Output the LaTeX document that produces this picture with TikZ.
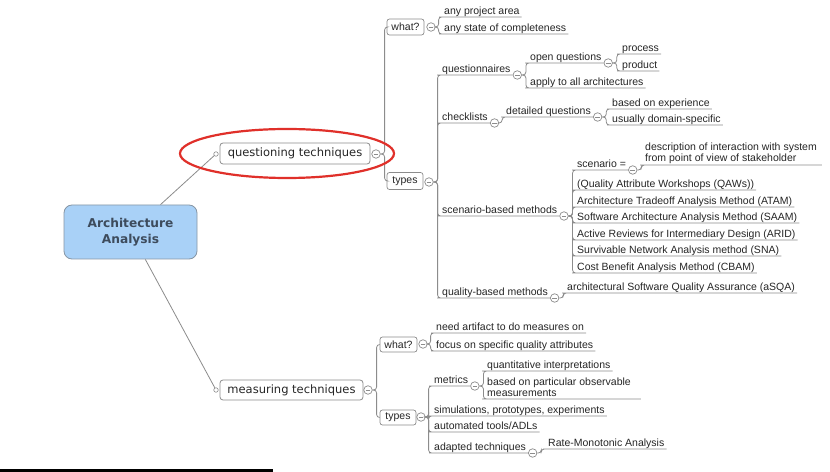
\documentclass[tikz,border=0pt]{standalone}
\usepackage{fontspec}
\setmainfont{Liberation Sans}
\newfontfamily\boxfont{DejaVu Sans}
\usetikzlibrary{shapes.geometric}
\definecolor{lineg}{HTML}{8C8C8C}
\definecolor{txt}{HTML}{262626}
\definecolor{rootfill}{HTML}{A9D1F7}
\definecolor{rootdraw}{HTML}{8796A5}
\definecolor{roottxt}{HTML}{3D4B5C}
\definecolor{ring}{HTML}{E0302A}
\newcommand\lastdp{\rule[-1.2bp]{0pt}{1.2bp}}
\tikzset{
 conn/.style={draw=lineg, line width=0.8bp, rounded corners=3bp},
 topic/.style={anchor=south west, inner xsep=2bp, inner ysep=0.8bp, text height=8bp, text depth=1.2bp, font=\fontsize{10.5bp}{12bp}\selectfont, text=txt},
 topictwo/.style={anchor=south west, inner xsep=2bp, inner ysep=0.8bp, align=left, font=\fontsize{10.5bp}{11.5bp}\selectfont, text=txt},
 smallbox/.style={draw=lineg, fill=white, rounded corners=2.5bp, line width=0.7bp, inner sep=0, font=\fontsize{10.5bp}{12bp}\selectfont, text=txt},
 mainbox/.style={draw=lineg, fill=white, rounded corners=3bp, line width=0.8bp, inner sep=0, font=\boxfont\fontsize{11.5bp}{13bp}\selectfont, text=txt},
 rootbox/.style={draw=rootdraw, fill=rootfill, rounded corners=8bp, line width=0.8bp, align=center, minimum width=133bp, minimum height=54bp, font=\boxfont\bfseries\fontsize{12.2bp}{16.5bp}\selectfont, text=roottxt},
 fold/.style={circle, draw=lineg, fill=white, line width=0.7bp, minimum size=8.5bp, inner sep=0, path picture={\draw[lineg, line width=0.7bp] ([xshift=-2.3bp]path picture bounding box.center) -- ([xshift=2.3bp]path picture bounding box.center);}},
 foldr/.style={fold, anchor=west},
 dot/.style={circle, draw=lineg, fill=white, line width=0.6bp, minimum size=4.5bp, inner sep=0},
}
\begin{document}
\begin{tikzpicture}[x=1bp,y=-1bp]
\fill[white] (0,0) rectangle (830,472);
\useasboundingbox (0,0) rectangle (830,472);
\fill[black] (0,468.5) rectangle (273,472);

% root and main branches
\node[rootbox] (root) at (130.5,232) {Architecture\\Analysis};
\node[mainbox, minimum width=150bp, minimum height=21bp] (qt) at (295,153.5) {questioning techniques};
\node[dot] (qdot) at (216,154) {};
\node[fold] (qtc) at (376,154) {};
\node[mainbox, minimum width=143bp, minimum height=20bp] (mt) at (291.5,390) {measuring techniques};
\node[dot] (mdot) at (216,390) {};
\node[fold] (mtc) at (368,390) {};

% questioning: what?
\node[smallbox, minimum width=37bp, minimum height=16bp] (qw) at (405.5,27) {what?};
\node[fold] (qwc) at (431,27) {};
\node[topic] (qa1) at (442,17) {any project area};
\node[topic] (qa2) at (442,34) {any state of completeness};

% questioning: types
\node[smallbox, minimum width=36bp, minimum height=17bp] (qty) at (405,181) {types};
\node[fold] (qtyc) at (429,182) {};
\node[topic] (qq) at (440,75) {questionnaires};
\node[foldr] (qqc) at (qq.south east) {};
\node[topic] (qo) at (528,63) {open questions};
\node[foldr] (qoc) at (qo.south east) {};
\node[topic] (qp1) at (620,54) {process};
\node[topic] (qp2) at (620,71) {product};
\node[topic] (qap) at (528,88) {apply to all architectures};
\node[topic] (qc) at (440,123) {checklists};
\node[foldr] (qcc) at (qc.south east) {};
\node[topic] (qd) at (504,117) {detailed questions};
\node[foldr] (qdc) at (qd.south east) {};
\node[topic] (qd1) at (610,109) {based on experience};
\node[topic] (qd2) at (610,125) {usually domain-specific};
\node[topic] (qs) at (440,216) {scenario-based methods};
\node[foldr] (qsc) at (qs.south east) {};
\node[topic] (qs0) at (575,170) {scenario =};
\node[foldr] (qs0c) at (qs0.south east) {};
\node[topictwo] (qsd) at (643,165) {description of interaction with system\\from point of view of stakeholder\lastdp};
\node[topic] (qs1) at (575,190) {(Quality Attribute Workshops (QAWs))};
\node[topic] (qs2) at (575,207) {Architecture Tradeoff Analysis Method (ATAM)};
\node[topic] (qs3) at (575,223) {Software Architecture Analysis Method (SAAM)};
\node[topic] (qs4) at (575,240) {Active Reviews for Intermediary Design (ARID)};
\node[topic] (qs5) at (575,256) {Survivable Network Analysis method (SNA)};
\node[topic] (qs6) at (575,273) {Cost Benefit Analysis Method (CBAM)};
\node[topic] (qb) at (440,298) {quality-based methods};
\node[foldr] (qbc) at (qb.south east) {};
\node[topic] (qb1) at (565,293) {architectural Software Quality Assurance (aSQA)};

% measuring: what?
\node[smallbox, minimum width=37bp, minimum height=15bp] (mw) at (398.5,344.5) {what?};
\node[fold] (mwc) at (423,344) {};
\node[topic] (ma1) at (434,333) {need artifact to do measures on};
\node[topic] (ma2) at (434,351) {focus on specific quality attributes};

% measuring: types
\node[smallbox, minimum width=36bp, minimum height=15bp] (mty) at (398,417.5) {types};
\node[fold] (mtyc) at (421,417) {};
\node[topic] (mm) at (432,386) {metrics};
\node[foldr] (mmc) at (mm.south east) {};
\node[topic] (mm1) at (485,371) {quantitative interpretations};
\node[topictwo] (mm2) at (485,399) {based on particular observable\\measurements\lastdp};
\node[topic] (ms) at (432,416) {simulations, prototypes, experiments};
\node[topic] (mau) at (432,432) {automated tools/ADLs};
\node[topic] (mad) at (432,453) {adapted techniques};
\node[foldr] (madc) at (mad.south east) {};
\node[topic] (mad1) at (546,449) {Rate-Monotonic Analysis};

% connectors
\draw[conn] (root) -- (qdot);
\draw[conn] (root) -- (mdot);

\draw[conn] (qtc.east) -- ++(4,0) |- (qw.west);
\draw[conn] (qtc.east) -- ++(4,0) |- (qty.west);
\draw[conn] (qwc.east) -- ++(3,0) |- (qa1.south west) -- (qa1.south east);
\draw[conn] (qwc.east) -- ++(3,0) |- (qa2.south west) -- (qa2.south east);

\draw[conn] (qtyc.east) -- ++(4,0) |- (qq.south west) -- (qq.south east);
\draw[conn] (qtyc.east) -- ++(4,0) |- (qc.south west) -- (qc.south east);
\draw[conn] (qtyc.east) -- ++(4,0) |- (qs.south west) -- (qs.south east);
\draw[conn] (qtyc.east) -- ++(4,0) |- (qb.south west) -- (qb.south east);

\draw[conn] (qqc.east) -- ++(4,0) |- (qo.south west) -- (qo.south east);
\draw[conn] (qqc.east) -- ++(4,0) |- (qap.south west) -- (qap.south east);
\draw[conn] (qoc.east) -- ++(4,0) |- (qp1.south west) -- (qp1.south east);
\draw[conn] (qoc.east) -- ++(4,0) |- (qp2.south west) -- (qp2.south east);

\draw[conn] (qcc.east) -- ++(3,0) |- (qd.south west) -- (qd.south east);
\draw[conn] (qdc.east) -- ++(4,0) |- (qd1.south west) -- (qd1.south east);
\draw[conn] (qdc.east) -- ++(4,0) |- (qd2.south west) -- (qd2.south east);

\foreach \c in {qs0,qs1,qs2,qs3,qs4,qs5,qs6}
  \draw[conn] (qsc.east) -- ++(4,0) |- (\c.south west) -- (\c.south east);
\draw[conn] (qs0c.east) -- ++(4,0) |- (qsd.south west) -- ([xshift=3bp]qsd.south east);
\draw[conn] (qbc.east) -- ++(4,0) |- (qb1.south west) -- (qb1.south east);

\draw[conn] (mtc.east) -- ++(4,0) |- (mw.west);
\draw[conn] (mtc.east) -- ++(4,0) |- (mty.west);
\draw[conn] (mwc.east) -- ++(3,0) |- (ma1.south west) -- (ma1.south east);
\draw[conn] (mwc.east) -- ++(3,0) |- (ma2.south west) -- (ma2.south east);

\foreach \c in {mm,ms,mau,mad}
  \draw[conn] (mtyc.east) -- ++(3,0) |- (\c.south west) -- (\c.south east);
\draw[conn] (mmc.east) -- ++(4,0) |- (mm1.south west) -- (mm1.south east);
\draw[conn] (mmc.east) -- ++(4,0) |- (mm2.south west) -- ([xshift=8bp]mm2.south east);
\draw[conn] (madc.east) -- ++(4,0) |- (mad1.south west) -- (mad1.south east);

% highlight ring
\node[ellipse, draw=ring, line width=2.2bp, minimum width=214bp, minimum height=49bp, inner sep=0] (ringq) at (287,153.5) {};
\end{tikzpicture}
\end{document}
